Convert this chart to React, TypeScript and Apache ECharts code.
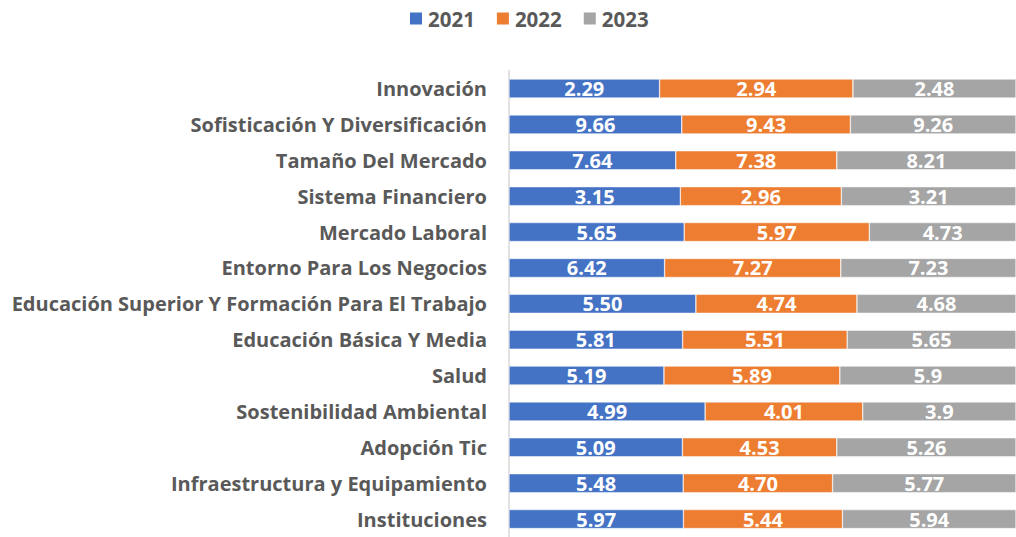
import React, { useEffect, useRef } from "react";
import * as echarts from "echarts";

const categories = [
  "Innovación",
  "Sofisticación Y Diversificación",
  "Tamaño Del Mercado",
  "Sistema Financiero",
  "Mercado Laboral",
  "Entorno Para Los Negocios",
  "Educación Superior Y Formación Para El Trabajo",
  "Educación Básica Y Media",
  "Salud",
  "Sostenibilidad Ambiental",
  "Adopción Tic",
  "Infraestructura y Equipamiento",
  "Instituciones",
];

const values2021 = ["2.29", "9.66", "7.64", "3.15", "5.65", "6.42", "5.50", "5.81", "5.19", "4.99", "5.09", "5.48", "5.97"];
const values2022 = ["2.94", "9.43", "7.38", "2.96", "5.97", "7.27", "4.74", "5.51", "5.89", "4.01", "4.53", "4.70", "5.44"];
const values2023 = ["2.48", "9.26", "8.21", "3.21", "4.73", "7.23", "4.68", "5.65", "5.9", "3.9", "5.26", "5.77", "5.94"];

const seriesNames = ["2021", "2022", "2023"];
const colors = ["#4472C4", "#ED7D31", "#A5A5A5"];

const FONT = "Open Sans";

export default function App() {
  const ref = useRef<HTMLDivElement>(null);
  useEffect(() => {
    if (!ref.current) return;
    const chart = echarts.init(ref.current, null, { renderer: "svg" });
    const all = [values2021, values2022, values2023];
    const totals = categories.map((_, i) =>
      all.reduce((s, arr) => s + Number(arr[i]), 0)
    );
    const series = all.map((arr, si) => ({
      name: seriesNames[si],
      type: "bar",
      stack: "total",
      barWidth: 19,
      itemStyle: { color: colors[si], borderColor: "#ffffff", borderWidth: 0.5 },
      label: {
        show: true,
        position: "inside",
        color: "#ffffff",
        fontFamily: FONT,
        fontWeight: "bold",
        fontSize: 20,
        formatter: (p: any) => arr[p.dataIndex],
      },
      data: arr.map((v, i) => (Number(v) / totals[i]) * 100),
    }));
    chart.setOption({
      animation: false,
      color: colors,
      legend: {
        data: seriesNames,
        left: 403,
        top: 3,
        itemWidth: 14,
        itemHeight: 14,
        itemGap: 20,
        icon: "rect",
        textStyle: {
          color: "#595959",
          fontFamily: FONT,
          fontWeight: "bold",
          fontSize: 20.5,
        },
      },
      grid: { left: 509, right: 0, top: 70.6, height: 473.6, containLabel: false },
      xAxis: {
        type: "value",
        min: 0,
        max: 100,
        show: false,
      },
      yAxis: {
        type: "category",
        inverse: true,
        data: categories,
        axisLine: { show: true, lineStyle: { color: "#D9D9D9", width: 1.5 } },
        axisTick: { show: false },
        axisLabel: {
          margin: 22,
          color: "#595959",
          fontFamily: FONT,
          fontWeight: "bold",
          fontSize: 20,
        },
      },
      series,
    });
    return () => chart.dispose();
  }, []);
  return (
    <div
      ref={ref}
      style={{ position: "fixed", left: 0, top: 0, width: 1016, height: 537, background: "#ffffff" }}
    />
  );
}
